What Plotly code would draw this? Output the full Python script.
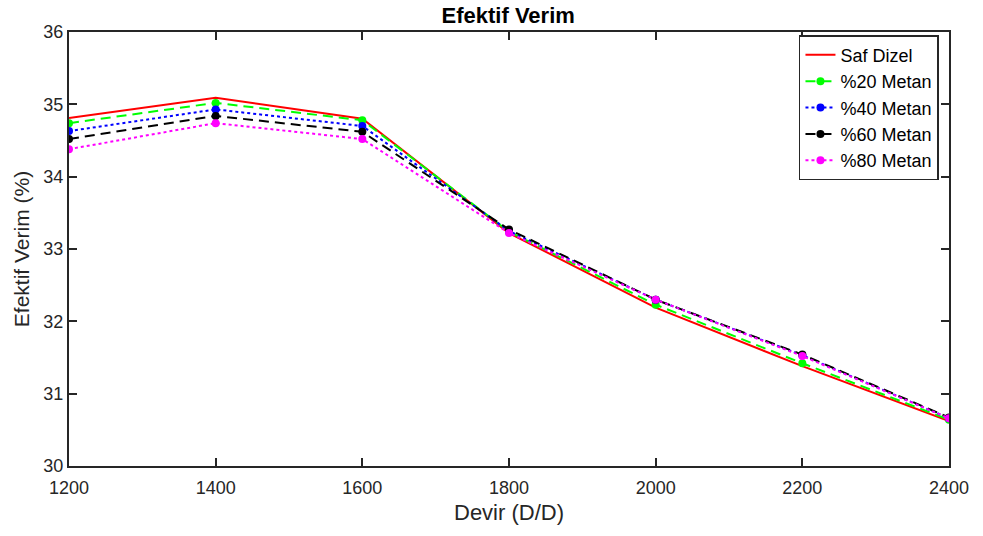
import plotly.graph_objects as go

devir = [1200, 1400, 1600, 1800, 2000, 2200, 2400]
saf_dizel = [34.81, 35.09, 34.80, 33.22, 32.19, 31.38, 30.62]
metan20 = [34.74, 35.02, 34.78, 33.24, 32.23, 31.42, 30.64]
metan40 = [34.63, 34.93, 34.70, 33.25, 32.30, 31.53, 30.66]
metan60 = [34.52, 34.84, 34.62, 33.27, 32.30, 31.54, 30.67]
metan80 = [34.38, 34.74, 34.52, 33.22, 32.30, 31.52, 30.66]

series = [
    ("Saf Dizel", saf_dizel, "#ff0000", "solid", False),
    ("%20 Metan", metan20, "#00ff00", "10px,6px", True),
    ("%40 Metan", metan40, "#0000ff", "dot", True),
    ("%60 Metan", metan60, "#000000", "10px,6px", True),
    ("%80 Metan", metan80, "#ff00ff", "dot", True),
]

fig = go.Figure()
for name, vals, color, dash, mk in series:
    fig.add_trace(go.Scatter(
        x=devir, y=vals, name=name,
        mode="lines+markers" if mk else "lines",
        line=dict(color=color, width=2, dash=dash),
        marker=dict(color=color, size=8, symbol="circle"),
    ))

FONT = "Liberation Sans, Arial"
axis_common = dict(
    showgrid=False, zeroline=False, showline=True, linecolor="#262626", linewidth=2,
    mirror="ticks", ticks="inside", ticklen=8, tickwidth=1.5, tickcolor="#262626",
    tickfont=dict(family=FONT, size=18, color="#262626"),
    automargin=False,
)

fig.update_layout(
    width=983, height=536,
    margin=dict(l=69, r=34, t=32, b=70),
    paper_bgcolor="white", plot_bgcolor="white",
    title=dict(text="<b>Efektif Verim</b>", xref="container", x=0.517, xanchor="center",
               yref="container", y=0.972, yanchor="middle",
               font=dict(family=FONT, size=22, color="#000000")),
    xaxis=dict(range=[1200, 2400], tickvals=[1200, 1400, 1600, 1800, 2000, 2200, 2400],
               ticklabelstandoff=4,
               title=dict(text="Devir (D/D)", font=dict(family=FONT, size=22, color="#262626"), standoff=8),
               **axis_common),
    yaxis=dict(range=[30, 36], tickvals=[30, 31, 32, 33, 34, 35, 36],
               title=dict(text="Efektif Verim (%)", font=dict(family=FONT, size=21, color="#262626"), standoff=8),
               **axis_common),
    legend=dict(x=0.9886, y=0.993, xanchor="right", yanchor="top",
                bgcolor="white", bordercolor="#262626", borderwidth=1.5,
                font=dict(family=FONT, size=18, color="#000000"),
                tracegroupgap=0, itemwidth=30),
    showlegend=True,
)

fig.write_html("out.html", config={"displayModeBar": False},
               post_script="document.body.style.margin='0';")
